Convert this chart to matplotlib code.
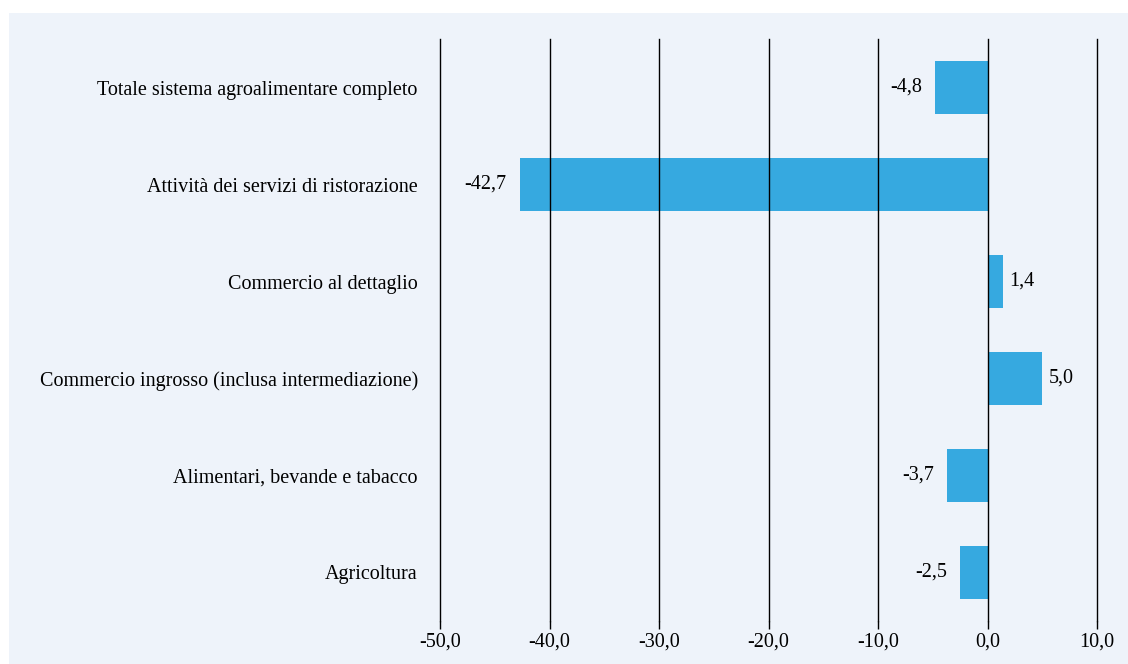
import matplotlib
matplotlib.use("Agg")
import matplotlib.pyplot as plt
from matplotlib.patches import Rectangle

# data (bottom to top as drawn)
categories = [
    "Agricoltura",
    "Alimentari, bevande e tabacco",
    "Commercio ingrosso (inclusa intermediazione)",
    "Commercio al dettaglio",
    "Attività dei servizi di ristorazione",
    "Totale sistema agroalimentare completo",
]
values = [-2.5, -3.7, 5.0, 1.4, -42.7, -4.8]
x_ticks = [-50, -40, -30, -20, -10, 0, 10]

bar_color = "#36A9E0"
bg_color = "#EEF3FA"
fs = 14.5

plt.rcParams["font.family"] = ["Liberation Serif", "DejaVu Serif"]

fig = plt.figure(figsize=(11.28, 6.64), dpi=100)
fig.patch.set_facecolor("white")
fig.patches.append(Rectangle((9 / 1128, 0), 1 - 9 / 1128, 1 - 13 / 664,
                             transform=fig.transFigure, facecolor=bg_color,
                             edgecolor="none", zorder=-10))

ax = fig.add_axes([440 / 1128, 1 - 621 / 664, (1097 - 440) / 1128, (621 - 39) / 664])
ax.set_zorder(5)
ax.set_facecolor("none")

y = range(len(categories))
ax.barh(y, values, height=0.54, color=bar_color, zorder=2)

# vertical gridlines, the last one sits on the axes edge
for xt in x_ticks:
    ax.axvline(xt, color="black", lw=1.0, zorder=3, clip_on=False)

for yi, v in zip(y, values):
    lbl = f"{v:.1f}".replace(".", ",")
    if v < 0:
        ax.text(v - 1.2, yi, lbl, ha="right", va="center", fontsize=fs)
    else:
        ax.text(v + 0.6, yi, lbl, ha="left", va="center", fontsize=fs)

ax.set_xlim(-50, 10)
ax.set_ylim(-0.5, len(categories) - 0.5)
ax.set_xticks(x_ticks)
ax.set_xticklabels([f"{t:.1f}".replace(".", ",") for t in x_ticks], fontsize=fs)
ax.set_yticks(list(y))
ax.set_yticklabels(categories, fontsize=fs)
ax.tick_params(axis="y", length=0, pad=16)
ax.tick_params(axis="x", length=6, width=1.0, color="black", pad=2)
for s in ax.spines.values():
    s.set_visible(False)

fig.savefig("out.png", dpi=100, facecolor=fig.get_facecolor())
